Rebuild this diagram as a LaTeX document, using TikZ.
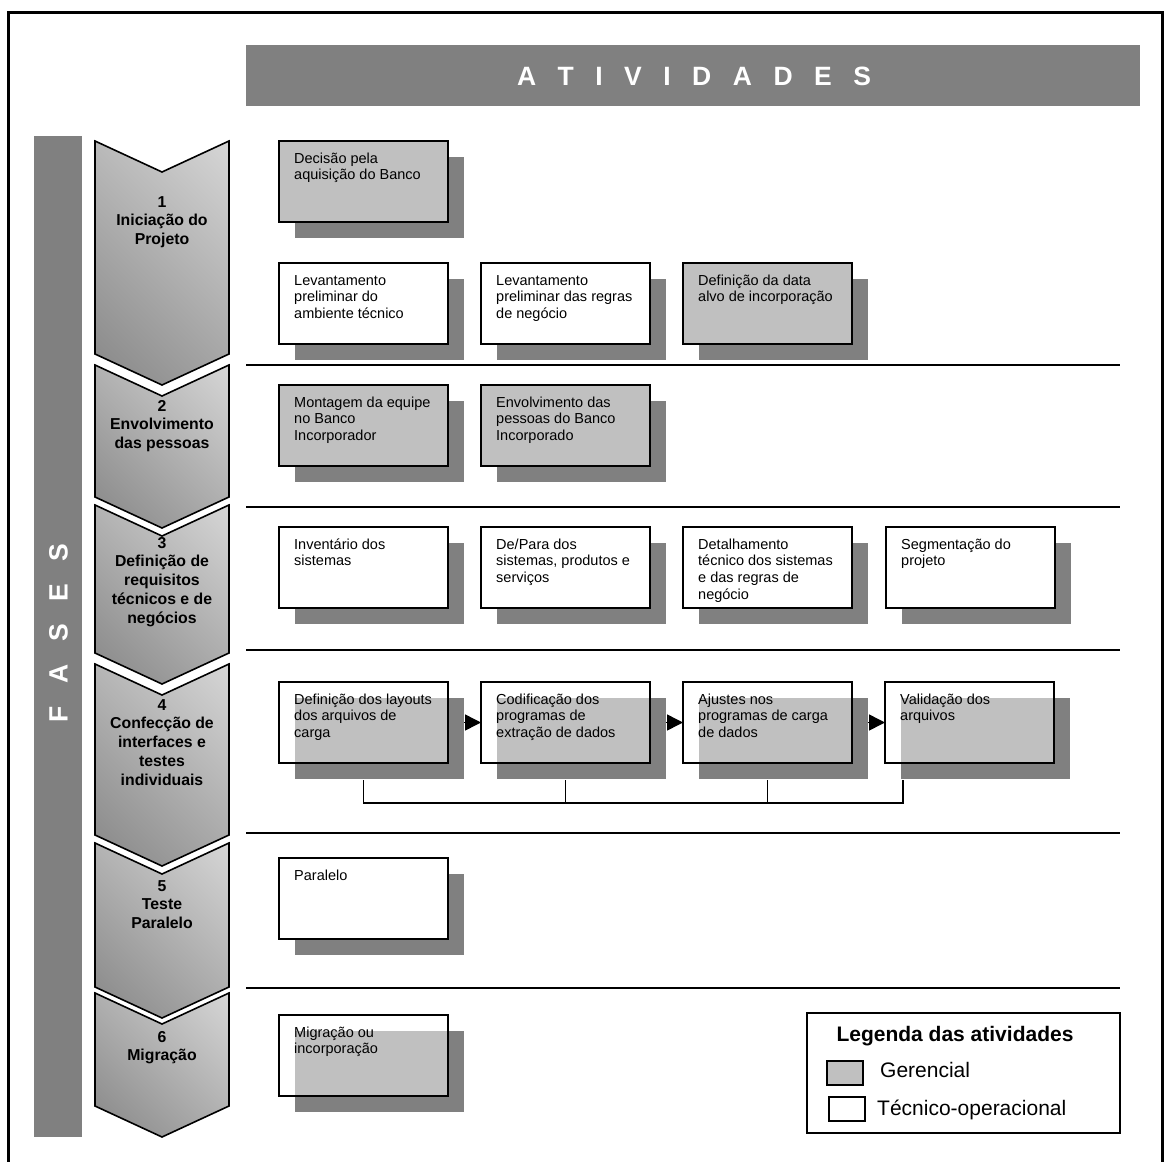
\documentclass[tikz,border=0pt]{standalone}
\usepackage{fontspec}
\setmainfont{Liberation Sans}
\usetikzlibrary{arrows.meta,calc}

\definecolor{darkgr}{HTML}{808080}
\definecolor{lightgr}{HTML}{C0C0C0}
\definecolor{chevdark}{HTML}{626262}
\definecolor{chevlight}{HTML}{FAFAFA}

\pgfdeclarelayer{links}
\pgfdeclarelayer{shadows}
\pgfsetlayers{links,shadows,main}

% activity box: name, kind, x, y, text
\newcommand\activity[5]{%
  \node[actbox,#2] (#1) at (#3,#4) {};
  \node[acttext] (#1t) at ([shift={(15,11)}]#1.north west) {\rule{0pt}{11pt}#5};
  \begin{pgfonlayer}{shadows}
    \fill[darkgr] ([shift={(16,16)}]#1.north west) rectangle ([shift={(16,16)}]#1.south east);
  \end{pgfonlayer}}
% lighter zone where the shadow shows through an open box
\newcommand\seethrough[1]{%
  \begin{pgfonlayer}{shadows}
    \fill[lightgr] ([shift={(16,16)}]#1.north west) rectangle (#1.south east);
  \end{pgfonlayer}}
% phase chevron: name, top, bottom, first baseline, label
\newcommand\phase[5]{%
  \pgfmathsetmacro\chevr{(134+#3+31-#2)/1.5}%
  \pgfmathsetmacro\chevmid{(#2+#3+31)/2}%
  \begin{scope}
    \clip (95,#2) -- (162,{#2+31}) -- (229,#2) -- (229,#3) -- (162,{#3+31}) -- (95,#3) -- cycle;
    \begin{scope}[transform canvas={rotate around={45:(162,\chevmid)}}]
      \shade[left color=chevdark, right color=chevlight]
        ({162-\chevr},{\chevmid-\chevr}) rectangle ({162+\chevr},{\chevmid+\chevr});
    \end{scope}
  \end{scope}
  \draw[chevron] (95,#2) -- (162,{#2+31}) -- (229,#2) -- (229,#3) -- (162,{#3+31}) -- (95,#3) -- cycle;
  \node[phasetext] (#1) at (162,{#4-12}) {\rule{0pt}{12pt}#5};}

\begin{document}
\begin{tikzpicture}[x=1pt,y=-1pt,
  actbox/.style={draw, line width=1.6pt, minimum width=169, minimum height=81,
    inner sep=0pt, outer sep=0pt, anchor=north west},
  gerencial/.style={fill=lightgr},
  tecnico/.style={fill=white},
  misto/.style={},
  acttext/.style={anchor=north west, inner sep=0pt, align=left,
    font=\fontsize{14.5}{16.7}\selectfont},
  chevron/.style={draw=black, line width=1.6pt, line join=miter},
  phasetext/.style={anchor=north, inner sep=0pt, align=center,
    font=\fontsize{15.8}{18.7}\selectfont\bfseries},
  separator/.style={line width=1.5pt},
  flow/.style={line width=1.5pt, -{Triangle[length=16pt,width=16pt]}},
  bracket/.style={line width=1.5pt},
  banner/.style={fill=darkgr, inner sep=0pt, outer sep=0pt, anchor=north west},
  bannertext/.style={text=white, inner sep=0pt, anchor=base,
    font=\fontsize{26.5}{30}\selectfont\bfseries},
  swatch/.style={draw, line width=1.8pt, minimum width=36, minimum height=24,
    inner sep=0pt, outer sep=0pt, anchor=north west},
  legtext/.style={inner sep=0pt, anchor=base west, font=\fontsize{21}{24}\selectfont}]

\useasboundingbox (0,0) rectangle (1165,1162);

% outer frame, open at the foot of the page
\draw[line width=3pt] (8,1165) -- (8,12) -- (1162,12) -- (1162,1165);

% column banners
\node[banner, minimum width=894, minimum height=61] (atividades) at (246,45) {};
\node[bannertext] (atividadest) at (694,85) {\spaceskip=21.5pt A T I V I D A D E S};
\node[banner, minimum width=48, minimum height=1001] (fases) at (34,136) {};
\node[bannertext, rotate=90] (fasest) at (67.5,633) {\spaceskip=22.5pt F A S E S};

% phases
\phase{p1}{141}{354}{207}{1\\Iniciação do\\Projeto}
\phase{p2}{365}{497}{411}{2\\Envolvimento\\das pessoas}
\phase{p3}{505}{653}{548}{3\\Definição de\\requisitos\\técnicos e de\\negócios}
\phase{p4}{664}{835}{710}{4\\Confecção de\\interfaces e\\testes\\individuais}
\phase{p5}{843}{987}{891}{5\\Teste\\Paralelo}
\phase{p6}{993}{1106}{1042}{6\\Migração}

% phase separators
\foreach \yy in {365,507,650,833,988}
  \draw[separator] (246,\yy) -- (1120,\yy);

% phase 1
\activity{a11}{gerencial}{279}{141}{Decisão pela\\aquisição do Banco}
\activity{a12}{tecnico}{279}{263}{Levantamento\\preliminar do\\ambiente técnico}
\activity{a13}{tecnico}{481}{263}{Levantamento\\preliminar das regras\\de negócio}
\activity{a14}{gerencial}{683}{263}{Definição da data\\alvo de incorporação}
% phase 2
\activity{a21}{gerencial}{279}{385}{Montagem da equipe\\no Banco\\Incorporador}
\activity{a22}{gerencial}{481}{385}{Envolvimento das\\pessoas do Banco\\Incorporado}
% phase 3
\activity{a31}{tecnico}{279}{527}{Inventário dos\\sistemas}
\activity{a32}{tecnico}{481}{527}{De/Para dos\\sistemas, produtos e\\serviços}
\activity{a33}{tecnico}{683}{527}{Detalhamento\\técnico dos sistemas\\e das regras de\\negócio}
\activity{a34}{tecnico}{886}{527}{Segmentação do\\projeto}
% phase 4
\activity{a41}{misto}{279}{682}{Definição dos layouts\\dos arquivos de\\carga}
\activity{a42}{misto}{481}{682}{Codificação dos\\programas de\\extração de dados}
\activity{a43}{misto}{683}{682}{Ajustes nos\\programas de carga\\de dados}
\activity{a44}{misto}{885}{682}{Validação dos\\arquivos}
\seethrough{a41}\seethrough{a42}\seethrough{a43}\seethrough{a44}
% phase 5
\activity{a51}{tecnico}{279}{858}{Paralelo}
% phase 6
\activity{a61}{misto}{279}{1015}{Migração ou\\incorporação}
\seethrough{a61}

% sequence of phase 4
\begin{pgfonlayer}{links}
  \draw[flow] (a41.east) -- (a42.west);
  \draw[flow] (a42.east) -- (a43.west);
  \draw[flow] (a43.east) -- (a44.west);
\end{pgfonlayer}
\coordinate (busend) at ($(a44.south west)+(18,17)$);
\draw[bracket] ($(a41.south)+(0,17)$) |- ($(busend)+(0,23)$) -- (busend);
\draw[bracket] ($(a42.south)+(0,17)$) -- ($(a42.south)+(0,40)$);
\draw[bracket] ($(a43.south)+(0,17)$) -- ($(a43.south)+(0,40)$);

% legend
\node[draw, line width=2pt, minimum width=313, minimum height=120, inner sep=0pt,
  outer sep=0pt, anchor=north west] (legend) at (807,1013) {};
\node[inner sep=0pt, anchor=base, font=\fontsize{21}{24}\selectfont\bfseries]
  (legtitle) at (955,1041) {Legenda das atividades};
\node[swatch, fill=lightgr] (swger) at (827,1061) {};
\node[legtext] (txger) at (880,1077) {Gerencial};
\node[swatch, fill=white] (swtec) at (829,1097) {};
\node[legtext] (txtec) at (877,1115) {Técnico-operacional};
\end{tikzpicture}
\end{document}
